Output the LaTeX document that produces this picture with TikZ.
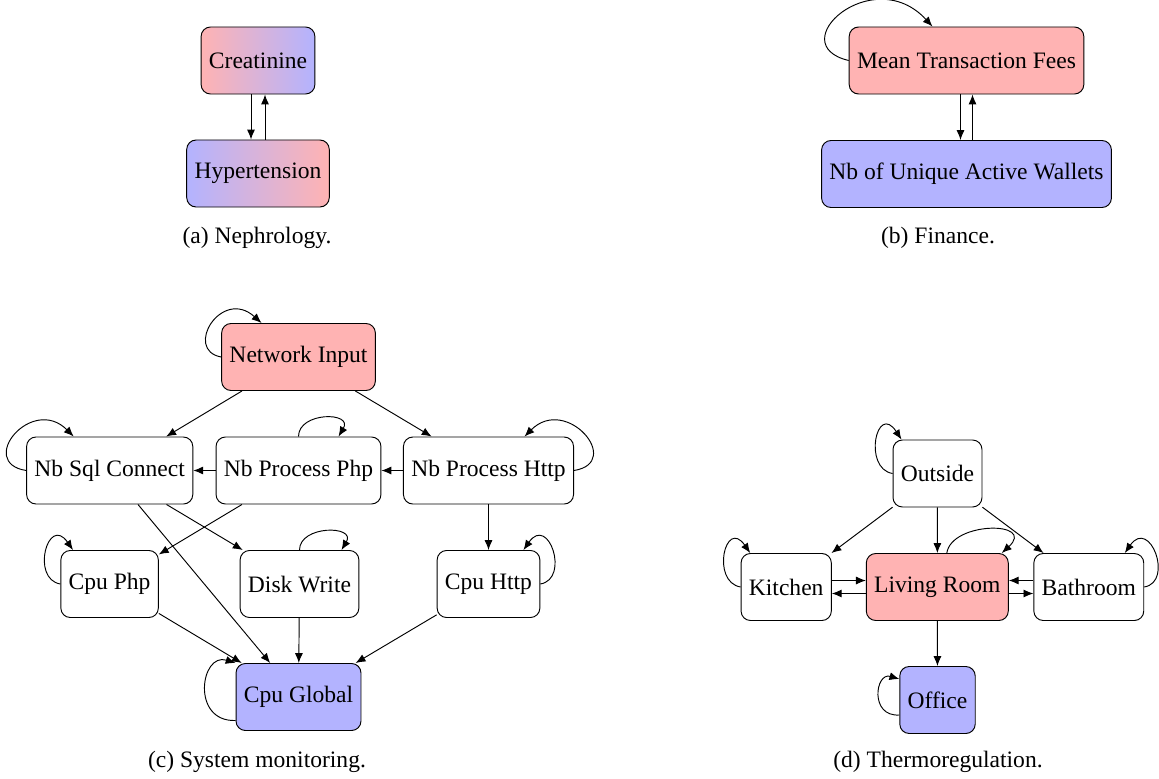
\documentclass[tikz,border=0pt]{standalone}
\usepackage{fontspec}
\setmainfont{Liberation Serif}
\setsansfont{Liberation Serif}
\setmonofont{Liberation Serif}
\usetikzlibrary{arrows.meta,calc}
\definecolor{rd}{RGB}{255,179,179}
\definecolor{bl}{RGB}{179,179,255}
\begin{document}
\begin{tikzpicture}[x=0.4246pt,y=-0.4246pt,
  >={Latex[length=4.2pt,width=3.4pt]},
  nodebox/.style={draw, rounded corners=4pt, minimum height=1cm, font=\rmfamily\fontsize{10}{12}\selectfont},
  captxt/.style={anchor=base, inner sep=0pt, font=\rmfamily\fontsize{10}{12}\selectfont},
  conn/.style={->, line width=0.4pt}]
\useasboundingbox (0,0) rectangle (1159,778);

% (a) Nephrology
\node[nodebox, left color=rd, right color=bl] (cre) at (258,60.5) {Creatinine};
\node[nodebox, left color=bl, right color=rd] (hyp) at (258,173.5) {Hypertension};
\draw[conn] ($(cre.south)+(-7,0)$) -- ($(hyp.north)+(-7,0)$);
\draw[conn] ($(hyp.north)+(7,0)$) -- ($(cre.south)+(7,0)$);
\node[captxt] (capa) at (257,243) {(a) Nephrology.};

% (b) Finance
\node[nodebox, fill=rd] (mtf) at (966.5,60.5) {Mean Transaction Fees};
\node[nodebox, fill=bl] (nuaw) at (966.5,174) {Nb of Unique Active Wallets};
\draw[conn] ($(mtf.south)+(-6,0)$) -- ($(nuaw.north)+(-6,0)$);
\draw[conn] ($(nuaw.north)+(6,0)$) -- ($(mtf.south)+(6,0)$);
\draw[conn] (mtf.west) .. controls +(-68,-16) and +(-60,-65) .. ($(mtf.north)+(-34,0)$);
\node[captxt] (capb) at (938,243) {(b) Finance.};

% (c) System monitoring
\node[nodebox, fill=rd] (ni) at (298.5,357) {Network Input};
\node[nodebox] (nsc) at (109.7,470.5) {Nb Sql Connect};
\node[nodebox] (npp) at (298.5,470.5) {Nb Process Php};
\node[nodebox] (nph) at (488.5,470.5) {Nb Process Http};
\node[nodebox] (cphp) at (109.6,584) {Cpu Php};
\node[nodebox] (dw) at (299.5,584) {Disk Write};
\node[nodebox] (chttp) at (488.5,584) {Cpu Http};
\node[nodebox, fill=bl] (cg) at (298.5,697) {Cpu Global};

\draw[conn] (ni) -- (nsc);
\draw[conn] (ni) -- (nph);
\draw[conn] (npp) -- (nsc);
\draw[conn] (nph) -- (npp);
\draw[conn] (nsc) -- (dw);
\draw[conn] (nsc) -- (cg);
\draw[conn] (npp) -- (cphp);
\draw[conn] (nph) -- (chttp);
\draw[conn] (cphp) -- (cg);
\draw[conn] (dw) -- (cg);
\draw[conn] (chttp) -- (cg);

\draw[conn] (ni.west) .. controls +(-38,-7) and +(-40,-36) .. ($(ni.north)+(-37,0)$);
\draw[conn] (nsc.west) .. controls +(-50,-8) and +(-42,-42) .. ($(nsc.north)+(-36,0)$);
\draw[conn] (npp.north) .. controls +(0,-25) and +(15,-25) .. ($(npp.north)+(40,0)$);
\draw[conn] (nph.east) .. controls +(50,-8) and +(42,-42) .. ($(nph.north)+(36,0)$);
\draw[conn] (cphp.west) .. controls +(-30,-5) and +(-25,-36) .. ($(cphp.north)+(-36.6,0)$);
\draw[conn] (dw.north) .. controls +(0,-25) and +(15,-25) .. ($(dw.north)+(42,0)$);
\draw[conn] (chttp.east) .. controls +(30,-5) and +(25,-36) .. ($(chttp.north)+(35,0)$);
\draw[conn] ($(cg.west)+(0,23.5)$) .. controls +(-45,1.5) and +(-35,-11) .. (cg.north west);
\node[captxt] (capc) at (257,767) {(c) System monitoring.};

% (d) Thermoregulation
\node[nodebox] (out) at (937.5,473.5) {Outside};
\node[nodebox] (kit) at (786.2,587) {Kitchen};
\node[nodebox, fill=rd] (lr) at (937.3,587) {Living Room};
\node[nodebox] (bath) at (1088.8,587) {Bathroom};
\node[nodebox, fill=bl] (off) at (937.5,700) {Office};

\draw[conn] (out) -- (kit);
\draw[conn] (out) -- (lr);
\draw[conn] (out) -- (bath);
\draw[conn] ($(kit.east)+(0,-6.5)$) -- ($(lr.west)+(0,-6.5)$);
\draw[conn] ($(lr.west)+(0,6.5)$) -- ($(kit.east)+(0,6.5)$);
\draw[conn] ($(bath.west)+(0,-6.5)$) -- ($(lr.east)+(0,-6.5)$);
\draw[conn] ($(lr.east)+(0,6.5)$) -- ($(bath.west)+(0,6.5)$);
\draw[conn] (lr) -- (off);

\draw[conn] (out.west) .. controls +(-30,-5) and +(-25,-38) .. ($(out.north)+(-36,0)$);
\draw[conn] (kit.west) .. controls +(-30,-5) and +(-25,-36) .. ($(kit.north)+(-36,0)$);
\draw[conn] (bath.east) .. controls +(30,-5) and +(25,-36) .. ($(bath.north)+(36,0)$);
\draw[conn] ($(lr.north)+(9.5,0)$) .. controls +(5,-32) and +(35,-32) .. ($(lr.north)+(64.5,0)$);
\draw[conn] ($(off.west)+(0,15)$) .. controls +(-30,2) and +(-24,-7) .. ($(off.west)+(0,-21)$);
\node[captxt] (capd) at (938,767) {(d) Thermoregulation.};
\end{tikzpicture}
\end{document}
